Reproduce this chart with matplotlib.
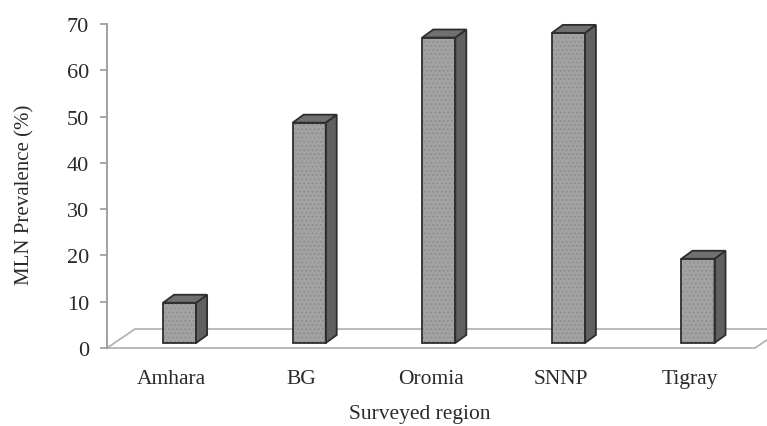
import numpy as np
import matplotlib
matplotlib.use("Agg")
import matplotlib.pyplot as plt
from matplotlib.patches import Polygon

regions = ["Amhara", "BG", "Oromia", "SNNP", "Tigray"]
prevalence = [8.7, 47.6, 66.0, 67.0, 18.2]
yticks = [0, 10, 20, 30, 40, 50, 60, 70]

plt.rcParams['font.family'] = ['Liberation Serif', 'DejaVu Serif']
plt.rcParams['hatch.linewidth'] = 0.6
txt = '#2a2a2a'

fig = plt.figure(figsize=(7.67, 4.27), dpi=100)
ax = fig.add_axes([107/767, 1-349/427, 648/767, 324/427])
ax.set_xlim(-0.5, len(regions)-0.5)
ax.set_ylim(0, 70)

# pseudo-3d offsets (category units, value units)
fdx, fdy = 0.216, 4.1      # floor depth
bx, by = 0.06, 1.08        # bar position inside the floor
ddx, ddy = 0.085, 1.73     # bar depth
w = 0.255

floor = [(-0.5, 0), (4.5, 0), (4.5+fdx, fdy), (-0.5+fdx, fdy)]
ax.add_patch(Polygon(floor, closed=True, facecolor='white', edgecolor='#b4b4b4',
                     lw=1.3, clip_on=False, zorder=1))

for i, v in enumerate(prevalence):
    x0 = i + bx - w/2
    x1 = i + bx + w/2
    y0 = by
    y1 = by + v
    front = [(x0, y0), (x1, y0), (x1, y1), (x0, y1)]
    side = [(x1, y0), (x1+ddx, y0+ddy), (x1+ddx, y1+ddy), (x1, y1)]
    top = [(x0, y1), (x1, y1), (x1+ddx, y1+ddy), (x0+ddx, y1+ddy)]
    ax.add_patch(Polygon(front, closed=True, facecolor='#a2a2a2', edgecolor='#8a8a8a',
                         hatch='....', lw=0, zorder=3))
    ax.add_patch(Polygon(front, closed=True, fill=False, edgecolor='#2e2e2e', lw=1.3, zorder=4))
    ax.add_patch(Polygon(side, closed=True, facecolor='#606060', edgecolor='#2e2e2e',
                         lw=1.3, zorder=3, clip_on=False))
    ax.add_patch(Polygon(top, closed=True, facecolor='#707070', edgecolor='#2e2e2e',
                         lw=1.3, zorder=3, clip_on=False))

for s in ['top', 'right', 'bottom']:
    ax.spines[s].set_visible(False)
ax.spines['left'].set_color('#9a9a9a')
ax.spines['left'].set_linewidth(1.3)

ax.set_yticks(yticks)
ax.tick_params(axis='y', length=5, width=1.2, color='#9a9a9a', labelsize=16,
               labelcolor=txt, pad=8)
ax.set_xticks(range(len(regions)))
ax.set_xticklabels(regions)
ax.tick_params(axis='x', length=0, labelsize=15.5, labelcolor=txt, pad=15)

ax.set_ylabel("MLN Prevalence (%)", fontsize=15, color=txt)
ax.yaxis.set_label_coords(-0.112, 0.475)
ax.set_xlabel("Surveyed region", fontsize=15.5, color=txt)
ax.xaxis.set_label_coords(0.483, -0.172)

fig.savefig("out.png", dpi=100)
